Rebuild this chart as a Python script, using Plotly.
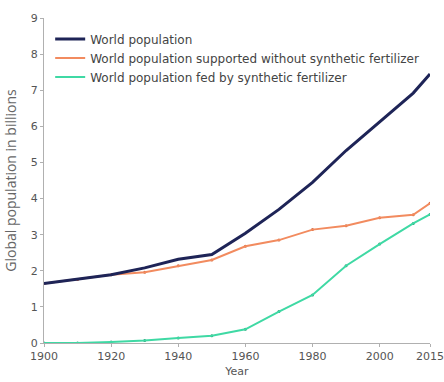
import plotly.graph_objects as go

years = [1900, 1910, 1920, 1930, 1940, 1950, 1960, 1970, 1980, 1990, 2000, 2010, 2015]
world = [1.65, 1.76, 1.89, 2.08, 2.32, 2.45, 3.04, 3.7, 4.45, 5.33, 6.12, 6.92, 7.45]
without_fert = [1.65, 1.76, 1.89, 1.96, 2.14, 2.3, 2.68, 2.85, 3.14, 3.25, 3.47, 3.55, 3.87]
fed_by_fert = [0.0, 0.0, 0.03, 0.07, 0.14, 0.2, 0.38, 0.87, 1.33, 2.14, 2.74, 3.31, 3.56]

x_ticks = [1900, 1920, 1940, 1960, 1980, 2000, 2015]
y_ticks = list(range(0, 10))

GREEN = "#3fd9a4"
ORANGE = "#f28b5f"
NAVY = "#1e2457"

fig = go.Figure()
# marker dots (no legend)
fig.add_trace(go.Scatter(x=years, y=fed_by_fert, mode="markers", showlegend=False,
                         marker=dict(size=3, color="#2a9c74")))
fig.add_trace(go.Scatter(x=years, y=without_fert, mode="markers", showlegend=False,
                         marker=dict(size=3, color="#d4693d")))
fig.add_trace(go.Scatter(x=years, y=fed_by_fert, mode="lines",
                         name="World population fed by synthetic fertilizer",
                         line=dict(color=GREEN, width=2)))
fig.add_trace(go.Scatter(x=years, y=without_fert, mode="lines",
                         name="World population supported without synthetic fertilizer",
                         line=dict(color=ORANGE, width=2)))
fig.add_trace(go.Scatter(x=years, y=world, mode="lines",
                         name="World population",
                         line=dict(color=NAVY, width=3)))

fig.update_layout(
    width=444, height=382,
    margin=dict(l=44, r=14, t=18, b=39, autoexpand=False),
    paper_bgcolor="white", plot_bgcolor="white",
    font=dict(family="DejaVu Sans, sans-serif", size=11, color="#555"),
    showlegend=True,
    legend=dict(x=0.016, y=0.98, xanchor="left", yanchor="top", traceorder="reversed",
                bgcolor="rgba(0,0,0,0)", font=dict(family="DejaVu Sans, sans-serif", size=12, color="#444"),
                tracegroupgap=0),
)
fig.update_xaxes(range=[1900, 2015], tickvals=x_ticks, showgrid=False, zeroline=False,
                 showline=True, linecolor="#b0b0b0", linewidth=1, ticks="outside", ticklen=3,
                 tickcolor="#b0b0b0", tickfont=dict(size=11, color="#555"), automargin=False,
                 title=dict(text="Year", font=dict(size=11, color="#555"), standoff=5))
fig.update_yaxes(range=[0, 9], tickvals=y_ticks, showgrid=False, zeroline=False,
                 showline=True, linecolor="#b0b0b0", linewidth=1, ticks="outside", ticklen=3,
                 tickcolor="#b0b0b0", tickfont=dict(size=11, color="#555"), automargin=False,
                 title=dict(text="Global population in billions",
                            font=dict(family="Open Sans, sans-serif", size=14, color="#666"), standoff=10))

fig.write_html("out.html",
               config={"displayModeBar": False},
               post_script="document.body.style.margin='0';document.body.style.overflow='hidden';")
